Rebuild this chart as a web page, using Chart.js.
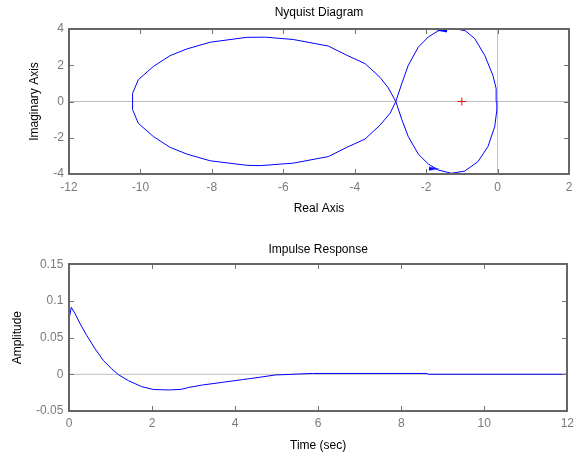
<!DOCTYPE html>
<html>
<head>
<meta charset="utf-8">
<script src="https://cdn.jsdelivr.net/npm/chart.js@4.4.1/dist/chart.umd.min.js"></script>
<style>
  body { margin: 0; background: #fff; }
  canvas { position: absolute; left: 0; }
  #nyq { top: 0; }
  #imp { top: 230px; }
</style>
</head>
<body>
<canvas id="nyq" width="579" height="230"></canvas>
<canvas id="imp" width="579" height="225"></canvas>
<script>
/* ===== Nyquist curve (real / imaginary parts) ===== */
const nyqRe = [-0.02, -0.04, -0.13, -0.36, -0.64, -0.90, -1.15, -1.40, -1.66, -1.94, -2.22, -2.50, -2.68, -2.85,
  -3.01, -3.29, -3.71, -4.22, -4.74, -5.72, -6.65, -7.02, -8.05, -8.70, -9.17, -9.64, -10.06, -10.22, -10.22,
  -10.22, -10.06, -9.64, -9.17, -8.70, -8.05, -7.02, -6.50, -5.72, -4.74, -4.22, -3.71, -3.29, -3.06, -2.85,
  -2.68, -2.50, -2.22, -1.94, -1.66, -1.29, -0.92, -0.55, -0.27, -0.08, -0.02, -0.02];
const nyqIm = [0, 0.71, 1.44, 2.55, 3.47, 3.90, 4.00, 4.00, 3.90, 3.56, 3.00, 2.00, 1.00, 0,
  -0.65, -1.30, -2.07, -2.53, -3.04, -3.40, -3.54, -3.52, -3.27, -2.90, -2.53, -1.93, -1.20, -0.45, 0,
  0.45, 1.20, 1.93, 2.53, 2.90, 3.27, 3.54, 3.55, 3.42, 3.06, 2.55, 2.09, 1.33, 0.75, 0,
  -1.00, -1.94, -2.90, -3.45, -3.78, -3.96, -3.84, -3.32, -2.49, -1.39, -0.47, 0];

/* direction arrows and the critical point */
const arrowRe = [-1.56, -1.78];
const arrowIm = [3.92, -3.71];
const critRe = [-1];
const critIm = [0];

/* ===== Impulse response ===== */
const impT = [0, 0, 0.055, 0.15, 0.27, 0.43, 0.63, 0.83, 1.03, 1.19, 1.43, 1.75, 2.03, 2.40, 2.70, 2.90,
  3.22, 3.70, 4.18, 4.58, 4.98, 5.30, 5.54, 5.86, 8.62, 8.65, 12];
const impA = [0, 0.075, 0.0914, 0.0824, 0.0688, 0.0528, 0.0346, 0.0187, 0.0074, -0.0004, -0.0086, -0.0168,
  -0.0207, -0.0213, -0.0205, -0.0177, -0.0145, -0.0109, -0.0072, -0.0041, -0.0008, -0.0002, 0.0005, 0.0012,
  0.0012, 0.0001, 0.0001];

/* axis ranges / ticks: [min, max, step] */
const nyqXRange = [-12, 2, 2];
const nyqYRange = [-4, 4, 2];
const impXRange = [0, 12, 2];
const impYRange = [-0.05, 0.15, 0.05];

const FONT = { family: "'Liberation Sans', Arial, sans-serif", size: 12, weight: 'normal' };
const AXIS_COLOR = '#666666';
const TICK_MARK = '#707070';
const TICK_COLOR = '#7a7a7a';
const ZERO_COLOR = '#bdbdbd';

const pts = (xs, ys) => xs.map((x, i) => ({ x, y: ys[i] }));
const fmt = v => String(+Number(v).toFixed(4));

function mainAxis(position, range, title, titlePad, tickPad, fitSize) {
  return {
    type: 'linear', position, min: range[0], max: range[1],
    ticks: { stepSize: range[2], color: TICK_COLOR, font: FONT, padding: tickPad,
      autoSkip: false, maxRotation: 0, callback: fmt },
    grid: { display: false, drawTicks: false },
    border: { display: false },
    title: { display: true, text: title, color: '#000', font: FONT, padding: titlePad },
    afterFit: s => { if (s.isHorizontal()) s.height = fitSize; else s.width = fitSize; }
  };
}

// MATLAB-style box with inward tick marks on all four sides
const boxTicks = {
  id: 'boxTicks',
  afterDraw(chart) {
    const { ctx, chartArea: a, scales: { x, y } } = chart;
    const L = Math.round(a.left), R = Math.round(a.right);
    const T = Math.round(a.top), B = Math.round(a.bottom);
    ctx.save();
    ctx.lineWidth = 1;
    ctx.strokeStyle = TICK_MARK;
    ctx.beginPath();
    x.ticks.forEach(t => {
      const px = Math.round(x.getPixelForValue(t.value)) + 0.5;
      ctx.moveTo(px, B); ctx.lineTo(px, B - 5);
      ctx.moveTo(px, T); ctx.lineTo(px, T + 5);
    });
    y.ticks.forEach(t => {
      const py = Math.round(y.getPixelForValue(t.value)) + 0.5;
      ctx.moveTo(L, py); ctx.lineTo(L + 5, py);
      ctx.moveTo(R, py); ctx.lineTo(R - 5, py);
    });
    ctx.stroke();
    ctx.lineWidth = 2;
    ctx.strokeStyle = AXIS_COLOR;
    ctx.strokeRect(L, T, R - L, B - T);
    ctx.restore();
  }
};

/* small flat arrowheads */
function arrowHead(dir) {
  const c = document.createElement('canvas');
  c.width = 11; c.height = 5;
  const g = c.getContext('2d');
  g.fillStyle = '#0000ff';
  g.beginPath();
  if (dir < 0) { g.moveTo(0, 2.5); g.lineTo(11, 0.5); g.lineTo(11, 4.5); }
  else { g.moveTo(11, 2.5); g.lineTo(0, 0.5); g.lineTo(0, 4.5); }
  g.closePath();
  g.fill();
  return c;
}

const baseOpts = {
  responsive: false,
  animation: false,
  events: [],
  plugins: { legend: { display: false }, tooltip: { enabled: false } }
};

/* ===== Nyquist diagram ===== */
new Chart(document.getElementById('nyq'), {
  type: 'scatter',
  data: {
    datasets: [
      { data: pts(nyqRe, nyqIm), showLine: true, borderColor: '#0000ff', borderWidth: 1, pointRadius: 0, order: 1 },
      { data: pts(arrowRe.slice(0, 1), arrowIm.slice(0, 1)), pointStyle: arrowHead(-1), pointRadius: 5, order: 0 },
      { data: pts(arrowRe.slice(1), arrowIm.slice(1)), pointStyle: arrowHead(1), pointRadius: 5, order: 0 },
      { data: pts(critRe, critIm), pointStyle: 'cross', pointRadius: 4, borderColor: '#ff0000',
        borderWidth: 1, order: 0 },
      { data: [{ x: nyqXRange[0], y: 0 }, { x: nyqXRange[1], y: 0 }], showLine: true,
        borderColor: ZERO_COLOR, borderWidth: 1, pointRadius: 0, order: 5 },
      { data: [{ x: 0, y: nyqYRange[0] }, { x: 0, y: nyqYRange[1] }], showLine: true,
        borderColor: ZERO_COLOR, borderWidth: 1, pointRadius: 0, order: 5 }
    ]
  },
  options: {
    ...baseOpts,
    layout: { padding: { left: 0, right: 10, top: 0, bottom: 0 } },
    plugins: {
      ...baseOpts.plugins,
      title: { display: true, text: 'Nyquist Diagram', color: '#000', font: FONT, fullSize: false,
        padding: { top: 5.8, bottom: 8.8 } }
    },
    scales: {
      x: mainAxis('bottom', nyqXRange, 'Real Axis', 14.3, 6, 56),
      y: mainAxis('left', nyqYRange, 'Imaginary Axis', 27.8, 5, 69)
    }
  },
  plugins: [boxTicks]
});

/* ===== Impulse response ===== */
new Chart(document.getElementById('imp'), {
  type: 'scatter',
  data: {
    datasets: [
      { data: pts(impT, impA), showLine: true, borderColor: '#0000ff', borderWidth: 1, pointRadius: 0, order: 1 },
      { data: [{ x: impXRange[0], y: 0 }, { x: impXRange[1], y: 0 }], showLine: true,
        borderColor: ZERO_COLOR, borderWidth: 1, pointRadius: 0, order: 5 }
    ]
  },
  options: {
    ...baseOpts,
    layout: { padding: { left: 0, right: 10, top: 0, bottom: 0 } },
    plugins: {
      ...baseOpts.plugins,
      title: { display: true, text: 'Impulse Response', color: '#000', font: FONT, fullSize: false,
        padding: { top: 12.8, bottom: 7.1 } }
    },
    scales: {
      x: mainAxis('bottom', impXRange, 'Time (sec)', 2.1, 5, 44),
      y: mainAxis('left', impYRange, 'Amplitude', 10.8, 5.7, 69)
    }
  },
  plugins: [boxTicks]
});
</script>
</body>
</html>
